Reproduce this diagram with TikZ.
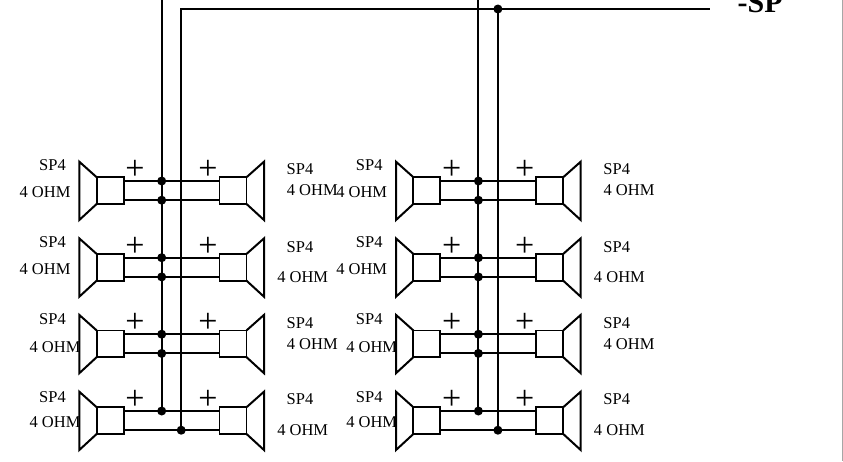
\documentclass[tikz,border=0pt]{standalone}
\usepackage{fontspec}
\setmainfont{Liberation Serif}
\begin{document}
\begin{tikzpicture}[x=1pt,y=-1pt,
  wire/.style={line width=2pt,black},
  bus/.style={line width=2pt,black},
  box/.style={draw=black,line width=1.9pt,fill=white,minimum width=27pt,minimum height=26.7pt,inner sep=0pt,outer sep=0pt},
  dot/.style={circle,fill=black,minimum size=9pt,inner sep=0pt,outer sep=0pt},
  lbl/.style={font=\fontsize{16.5}{18}\selectfont,anchor=base,inner sep=0pt,text=black},
  pl/.style={font=\fontsize{34}{36}\selectfont,inner sep=0pt},
  hub/.style={inner sep=0pt,outer sep=0pt,minimum size=0pt}]
\useasboundingbox (0,0) rectangle (843,461);
\draw[line width=1pt,black!35] (842.3,0) -- (842.3,461);
\clip (0,0) rectangle (843,461);
\foreach \g/\ox in {a/0,b/316.7}{
  \foreach \r/\oy in {1/0,2/76.7,3/153.2,4/230}{
    \begin{scope}[shift={(\ox,\oy)}]
      \node[box] (L\g\r) at (110.2,190.6) {};
      \node[box] (R\g\r) at (233,190.6) {};
      \coordinate (Ctl\g\r) at (79.3,161.7);
      \coordinate (Cbl\g\r) at (79.3,220);
      \coordinate (Ctr\g\r) at (264,161.7);
      \coordinate (Cbr\g\r) at (264,220);
      \draw[wire,line join=miter] (L\g\r.north west) -- (Ctl\g\r) -- (Cbl\g\r) -- (L\g\r.south west);
      \draw[wire,line join=miter] (R\g\r.north east) -- (Ctr\g\r) -- (Cbr\g\r) -- (R\g\r.south east);
      \node[hub] (U\g\r) at (161.7,181) {};
      \node[hub] (V\g\r) at (161.7,200.2) {};
      \node[hub] (W\g\r) at (181.2,200.2) {};
      \draw[wire] (L\g\r.east |- U\g\r) -- (U\g\r.center) -- (R\g\r.west |- U\g\r);
      \draw[wire] (L\g\r.east |- V\g\r) -- (V\g\r.center) -- (R\g\r.west |- V\g\r);
      \node[pl] (PL\g\r) at (135,170) {+};
      \node[pl] (PR\g\r) at (208,170) {+};
    \end{scope}
  }
}
\foreach \g/\ox in {0,316.7}{
  \begin{scope}[shift={(\ox,0)}]
    \node[lbl] at (52.5,170.5) {SP4};
    \node[lbl] at (52.5,247.2) {SP4};
    \node[lbl] at (52.5,324.8) {SP4};
    \node[lbl] at (52.5,402.2) {SP4};
    \node[lbl] at (45,197.8) {4 OHM};
    \node[lbl] at (45,274.8) {4 OHM};
    \node[lbl] at (55,352.2) {4 OHM};
    \node[lbl] at (55,427.8) {4 OHM};
    \node[lbl] at (300,174.8) {SP4};
    \node[lbl] at (300,252.2) {SP4};
    \node[lbl] at (300,328.8) {SP4};
    \node[lbl] at (300,404.8) {SP4};
    \node[lbl] at (312.3,195.5) {4 OHM};
    \node[lbl] at (302.7,282.8) {4 OHM};
    \node[lbl] at (312.3,349.8) {4 OHM};
    \node[lbl] at (302.7,435.5) {4 OHM};
  \end{scope}
}
\node[hub] (topA) at (161.7,-2) {};
\node[hub] (topB) at (478.4,-2) {};
\node[hub] (cornerA) at (181.2,9) {};
\node[dot] (topDot) at (497.9,9) {};
\coordinate (endS) at (709.5,9);
\node[dot] (botA) at (Wa4.center) {};
\node[dot] (botB) at (Wb4.center) {};
\draw[bus] (topA.center) -- (Ua4.center);
\draw[bus] (topB.center) -- (Ub4.center);
\draw[bus,line join=miter] (endS) -- (cornerA.center) -- (botA.center);
\draw[bus] (topDot.center) -- (botB.center);
\foreach \g in {a,b}{
  \foreach \r in {1,2,3,4}{
    \node[dot] (dU\g\r) at (U\g\r) {};
  }
  \foreach \r in {1,2,3}{
    \node[dot] (dV\g\r) at (V\g\r) {};
  }
}
\node[font=\fontsize{30}{32}\selectfont\bfseries,anchor=base west,inner sep=0pt] (sp) at (737.5,12) {-SP};
\end{tikzpicture}
\end{document}
